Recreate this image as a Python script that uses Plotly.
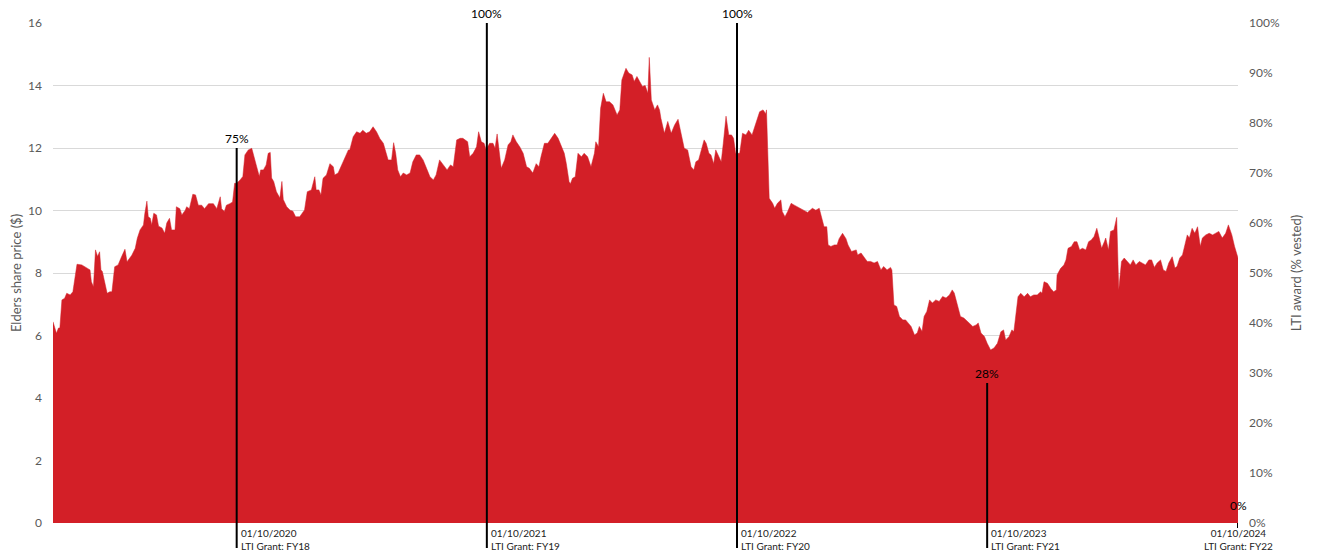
import plotly.graph_objects as go

# ---------------- data ----------------
dates_2020 = ["2020-01-07","2020-01-12","2020-01-15","2020-01-17","2020-01-20","2020-01-24","2020-01-27","2020-02-01","2020-02-05","2020-02-08",
              "2020-02-11","2020-02-18","2020-02-25","2020-03-01","2020-03-03","2020-03-06","2020-03-09","2020-03-12","2020-03-15","2020-03-17",
              "2020-03-19","2020-03-23","2020-03-26","2020-03-30","2020-04-02","2020-04-06","2020-04-11","2020-04-16","2020-04-21","2020-04-24",
              "2020-05-01","2020-05-06","2020-05-09","2020-05-13","2020-05-15","2020-05-18","2020-05-20","2020-05-23","2020-05-25","2020-05-28",
              "2020-05-30","2020-06-02","2020-06-06","2020-06-09","2020-06-14","2020-06-18","2020-06-21","2020-06-25","2020-06-28","2020-07-03",
              "2020-07-05","2020-07-10","2020-07-13","2020-07-18","2020-07-20","2020-07-24","2020-07-29","2020-08-02","2020-08-06","2020-08-11",
              "2020-08-15","2020-08-21","2020-08-28","2020-09-02","2020-09-07","2020-09-09","2020-09-13","2020-09-16","2020-09-21","2020-09-25",
              "2020-09-28","2020-10-01","2020-10-06","2020-10-10","2020-10-13","2020-10-18","2020-10-23","2020-10-26","2020-10-30","2020-11-03",
              "2020-11-05","2020-11-09","2020-11-13","2020-11-16","2020-11-19","2020-11-21","2020-11-24","2020-11-28","2020-12-03","2020-12-06",
              "2020-12-08","2020-12-13","2020-12-18","2020-12-22","2020-12-26"]
prices_2020 = [6.44,6.07,6.24,6.24,7.14,7.19,7.35,7.30,7.40,7.78,
               8.28,8.26,8.15,8.10,7.72,7.56,8.74,8.53,8.68,8.10,
               8.05,7.62,7.35,7.40,7.40,8.20,8.26,8.52,8.76,8.36,
               8.57,8.79,9.11,9.38,9.43,9.54,9.91,10.30,9.80,9.75,
               9.54,9.91,9.86,9.50,9.44,9.27,9.60,9.75,9.38,9.38,
               10.12,10.06,9.86,10.01,10.12,10.06,10.52,10.50,10.17,10.17,
               10.06,10.22,10.22,10.06,10.44,10.06,9.97,10.17,10.22,10.27,
               10.87,10.87,10.98,11.09,11.78,11.94,11.99,11.73,11.35,11.09,
               11.30,11.30,11.46,11.83,11.86,11.04,10.93,10.60,10.40,10.93,
               10.35,10.12,10.01,9.98,9.80]

dates_2021 = ["2021-01-01","2021-01-08","2021-01-12","2021-01-18","2021-01-23","2021-01-25","2021-01-29","2021-02-01","2021-02-04","2021-02-09",
              "2021-02-14","2021-02-19","2021-02-21","2021-02-26","2021-03-03","2021-03-08","2021-03-13","2021-03-15","2021-03-20","2021-03-25",
              "2021-03-30","2021-04-03","2021-04-08","2021-04-13","2021-04-18","2021-04-23","2021-04-28","2021-05-03","2021-05-07","2021-05-10",
              "2021-05-15","2021-05-18","2021-05-21","2021-05-24","2021-05-28","2021-06-01","2021-06-06","2021-06-11","2021-06-15","2021-06-20",
              "2021-06-25","2021-06-30","2021-07-05","2021-07-10","2021-07-15","2021-07-19","2021-07-24","2021-07-29","2021-08-04","2021-08-09",
              "2021-08-13","2021-08-18","2021-08-23","2021-08-27","2021-09-03","2021-09-06","2021-09-11","2021-09-16","2021-09-19","2021-09-23",
              "2021-09-27","2021-09-30","2021-10-05","2021-10-10","2021-10-13","2021-10-16","2021-10-20","2021-10-22","2021-10-27","2021-11-01",
              "2021-11-05","2021-11-08","2021-11-13","2021-11-18","2021-11-23","2021-11-28","2021-12-02","2021-12-07","2021-12-12","2021-12-16",
              "2021-12-19","2021-12-24","2021-12-29"]
prices_2021 = [9.80,10.02,10.60,10.66,11.08,10.66,10.66,10.50,11.03,11.14,
               11.50,11.40,11.14,11.20,11.46,11.72,11.94,11.94,12.36,12.52,
               12.47,12.57,12.47,12.52,12.68,12.52,12.30,12.15,11.83,11.62,
               11.62,12.17,11.83,11.30,11.08,11.20,11.14,11.20,11.56,11.78,
               11.78,11.62,11.35,11.08,10.98,11.14,11.62,11.46,11.30,11.46,
               11.40,12.26,12.31,12.31,12.20,11.72,11.83,12.04,12.52,12.20,
               12.15,11.94,12.15,12.15,11.99,12.45,11.72,11.35,11.62,12.10,
               12.20,12.42,12.20,12.04,11.83,11.40,11.35,11.20,11.50,11.40,
               11.72,12.15,12.15]

dates_2022 = ["2022-01-03","2022-01-08","2022-01-13","2022-01-17","2022-01-22","2022-01-25","2022-01-29","2022-01-31","2022-02-03","2022-02-07",
              "2022-02-11","2022-02-16","2022-02-20","2022-02-25","2022-03-02","2022-03-07","2022-03-09","2022-03-13","2022-03-16","2022-03-20",
              "2022-03-24","2022-03-29","2022-04-03","2022-04-09","2022-04-13","2022-04-16","2022-04-22","2022-04-26","2022-05-01","2022-05-04",
              "2022-05-08","2022-05-12","2022-05-16","2022-05-20","2022-05-24","2022-05-26","2022-05-29","2022-06-03","2022-06-07","2022-06-10",
              "2022-06-12","2022-06-17","2022-06-22","2022-06-27","2022-07-02","2022-07-07","2022-07-11","2022-07-16","2022-07-21","2022-07-26",
              "2022-07-30","2022-08-02","2022-08-06","2022-08-10","2022-08-14","2022-08-17","2022-08-21","2022-08-24","2022-08-28","2022-08-31",
              "2022-09-05","2022-09-08","2022-09-11","2022-09-15","2022-09-19","2022-09-23","2022-09-26","2022-09-29","2022-10-05","2022-10-09",
              "2022-10-14","2022-10-18","2022-10-23","2022-10-28","2022-11-03","2022-11-08","2022-11-12","2022-11-13","2022-11-15","2022-11-17",
              "2022-11-22","2022-11-25","2022-11-29","2022-12-04","2022-12-06","2022-12-10","2022-12-14","2022-12-19","2022-12-23","2022-12-28"]
prices_2022 = [12.31,12.47,12.31,12.10,11.83,11.50,10.92,10.86,11.03,11.08,
               11.83,11.72,11.83,11.72,11.40,11.83,12.20,12.04,13.27,13.75,
               13.48,13.48,13.38,13.06,13.22,14.18,14.55,14.40,14.34,14.13,
               14.29,14.13,13.97,14.00,13.75,14.90,13.54,13.22,13.38,13.22,
               12.95,12.47,12.85,12.47,12.74,12.92,12.52,11.99,11.94,11.40,
               11.30,11.56,11.62,11.99,12.26,12.15,11.83,11.78,11.50,11.94,
               11.72,11.56,12.15,13.02,12.42,12.42,12.31,11.83,11.83,12.47,
               12.42,12.57,12.42,12.79,13.16,13.22,13.10,13.22,11.60,10.39,
               10.23,10.07,10.23,10.34,9.97,9.80,9.97,10.23,10.18,10.12]

dates_2023 = ["2023-01-02","2023-01-07","2023-01-12","2023-01-19","2023-01-24","2023-01-29","2023-02-01","2023-02-05","2023-02-09","2023-02-11",
              "2023-02-15","2023-02-20","2023-02-24","2023-02-27","2023-03-04","2023-03-09","2023-03-12","2023-03-17","2023-03-24","2023-03-26",
              "2023-03-31","2023-04-05","2023-04-09","2023-04-14","2023-04-19","2023-04-24","2023-04-29","2023-05-03","2023-05-08","2023-05-13",
              "2023-05-15","2023-05-18","2023-05-22","2023-05-26","2023-05-31","2023-06-04","2023-06-08","2023-06-12","2023-06-17","2023-06-21",
              "2023-06-24","2023-06-28","2023-07-01","2023-07-05","2023-07-09","2023-07-13","2023-07-18","2023-07-23","2023-07-28","2023-08-02",
              "2023-08-07","2023-08-11","2023-08-14","2023-08-18","2023-08-23","2023-08-28","2023-08-31","2023-09-05","2023-09-10","2023-09-15",
              "2023-09-18","2023-09-22","2023-09-27","2023-10-01","2023-10-06","2023-10-11","2023-10-16","2023-10-21","2023-10-25","2023-10-28",
              "2023-11-02","2023-11-06","2023-11-09","2023-11-11","2023-11-15","2023-11-19","2023-11-24","2023-11-29","2023-12-03","2023-12-08",
              "2023-12-13","2023-12-18","2023-12-20","2023-12-23","2023-12-28"]
prices_2023 = [10.07,10.01,9.94,10.07,10.01,10.07,9.80,9.48,9.48,8.90,
               8.85,8.90,8.90,9.10,9.27,9.10,8.90,8.69,8.74,8.58,
               8.64,8.48,8.37,8.37,8.32,8.37,8.10,8.21,8.10,8.18,
               8.10,6.98,6.93,6.61,6.50,6.50,6.40,6.29,6.02,6.08,
               6.29,6.13,6.61,6.77,7.14,7.04,7.14,7.09,7.25,7.20,
               7.30,7.46,7.36,6.98,6.61,6.56,6.50,6.40,6.29,6.34,
               6.40,6.08,5.97,5.75,5.54,5.60,5.75,6.12,6.18,5.86,
               5.97,6.18,6.13,6.50,7.24,7.35,7.24,7.35,7.24,7.30,
               7.30,7.40,7.35,7.72,7.67]

dates_2024 = ["2024-01-02","2024-01-06","2024-01-10","2024-01-11","2024-01-16","2024-01-21","2024-01-24","2024-01-27","2024-02-01","2024-02-05",
              "2024-02-09","2024-02-13","2024-02-17","2024-02-22","2024-02-26","2024-03-01","2024-03-05","2024-03-09","2024-03-12","2024-03-16",
              "2024-03-20","2024-03-22","2024-03-26","2024-03-29","2024-04-03","2024-04-07","2024-04-10","2024-04-14","2024-04-18","2024-04-23",
              "2024-04-27","2024-05-01","2024-05-05","2024-05-10","2024-05-14","2024-05-19","2024-05-24","2024-05-28","2024-06-01","2024-06-05",
              "2024-06-10","2024-06-14","2024-06-18","2024-06-22","2024-06-27","2024-07-01","2024-07-04","2024-07-08","2024-07-12","2024-07-16",
              "2024-07-19","2024-07-22","2024-07-26","2024-07-30","2024-08-03","2024-08-07","2024-08-10","2024-08-15","2024-08-20","2024-08-25",
              "2024-08-29","2024-09-03","2024-09-08","2024-09-13","2024-09-17","2024-09-22","2024-09-26","2024-09-30","2024-10-01"]
prices_2024 = [7.50,7.40,7.46,7.94,8.14,8.26,8.42,8.79,8.85,9.00,
               9.00,8.74,8.79,8.74,9.00,9.06,9.17,9.43,9.17,8.79,
               9.00,9.12,8.74,9.33,9.38,9.78,7.46,8.37,8.48,8.37,
               8.26,8.42,8.26,8.37,8.32,8.26,8.42,8.42,8.18,8.32,
               8.42,8.10,8.05,8.32,8.52,8.16,8.21,8.48,8.58,8.90,
               9.22,9.12,9.43,9.27,9.48,8.85,9.12,9.22,9.27,9.22,
               9.27,9.33,9.12,9.27,9.54,9.22,8.85,8.58,8.48]

# LTI vesting events
vest_dates = ["2020-10-01", "2021-10-01", "2022-10-01", "2023-10-01", "2024-10-01"]
vest_pct = [75, 100, 100, 28, 0]
vest_grants = ["FY18", "FY19", "FY20", "FY21", "FY22"]

left_ticks = [0, 2, 4, 6, 8, 10, 12, 14, 16]
right_ticks = [0, 10, 20, 30, 40, 50, 60, 70, 80, 90, 100]

dates = dates_2020 + dates_2021 + dates_2022 + dates_2023 + dates_2024
prices = prices_2020 + prices_2021 + prices_2022 + prices_2023 + prices_2024
assert len(dates) == len(prices)

RED = "#D31F27"
GREY = "#595959"
FONT = "Lato, 'Open Sans', sans-serif"

fig = go.Figure()
fig.add_trace(go.Scatter(
    x=dates, y=prices, mode="lines", fill="tozeroy",
    line=dict(width=0.5, color=RED), fillcolor=RED,
    hoverinfo="x+y", showlegend=False,
))
# invisible trace to carry the right-hand axis
fig.add_trace(go.Scatter(
    x=vest_dates, y=vest_pct, yaxis="y2", mode="markers",
    marker=dict(opacity=0), hoverinfo="skip", showlegend=False,
))

shapes = []
annotations = []
n = len(vest_dates)
for i, (d, p, g) in enumerate(zip(vest_dates, vest_pct, vest_grants)):
    last = i == n - 1
    shapes.append(dict(
        type="line", xref="x", yref="paper", x0=d, x1=d,
        y0=-0.01 if last else -0.05, y1=p / 100,
        line=dict(color="black", width=2), layer="above",
    ))
    annotations.append(dict(
        x=d, y=p / 100, xref="x", yref="paper", text=f"{p}%",
        showarrow=False, xanchor="center", yanchor="bottom",
        yshift=8 if last else 0,
        font=dict(family=FONT, size=12, color="black"),
    ))
    annotations.append(dict(
        x=d, y=0, xref="x", yref="paper",
        text=f"{d[8:10]}/{d[5:7]}/{d[0:4]}<br>LTI Grant: {g}",
        showarrow=False, xanchor="center" if last else "left",
        align="center" if last else "left",
        xshift=0 if last else 2, yanchor="top", yshift=-2,
        font=dict(family=FONT, size=10, color="#222222"),
    ))

# The page body adds an 8px offset, so the figure is sized to the visible area.
fig.update_layout(
    width=1310, height=545,
    margin=dict(l=45, r=80, t=15, b=30),
    paper_bgcolor="white", plot_bgcolor="white",
    font=dict(family=FONT, color=GREY),
    xaxis=dict(
        type="date", range=[dates[0], vest_dates[-1]],
        showgrid=False, showticklabels=False, ticks="", zeroline=False,
        showline=False,
    ),
    yaxis=dict(
        range=[0, 16], tickvals=left_ticks, ticktext=[str(v) for v in left_ticks],
        showgrid=True, gridcolor="#d9d9d9", gridwidth=1, zeroline=False,
        tickfont=dict(family=FONT, size=12, color=GREY),
        ticklabelstandoff=10,
        title=dict(text="Elders share price ($)", font=dict(family=FONT, size=13, color=GREY), standoff=8),
        automargin=False,
    ),
    yaxis2=dict(
        range=[0, 100], overlaying="y", side="right",
        tickvals=right_ticks, ticktext=[f"{v}%" for v in right_ticks],
        showgrid=False, zeroline=False,
        tickfont=dict(family=FONT, size=12, color=GREY),
        ticklabelstandoff=10,
        title=dict(text="LTI award (% vested)", font=dict(family=FONT, size=13, color=GREY), standoff=13),
        automargin=False,
    ),
    shapes=shapes,
    annotations=annotations,
)

fig.write_html("out.html")
